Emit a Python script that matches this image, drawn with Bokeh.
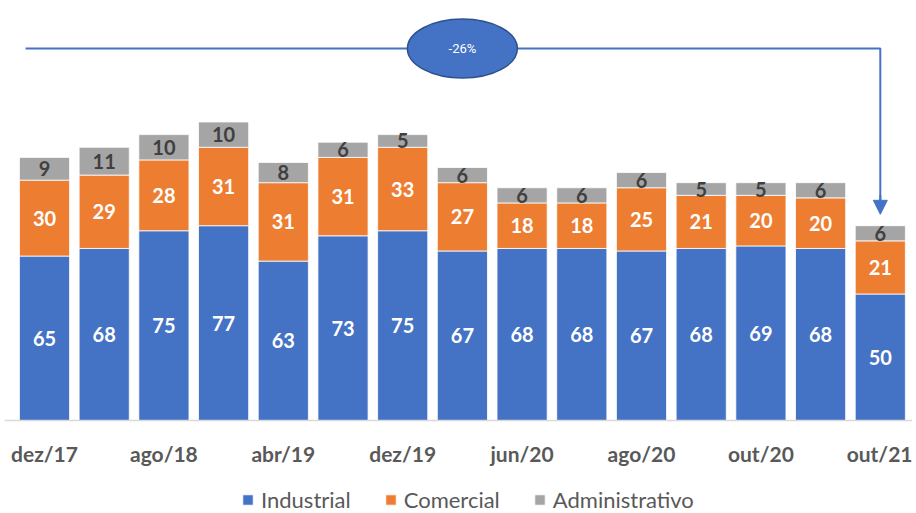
from bokeh.plotting import figure
from bokeh.models import (ColumnDataSource, Range1d, FixedTicker, Legend, LegendItem,
                          Arrow, NormalHead, Label)
from bokeh.core.properties import value
from bokeh.embed import file_html
from bokeh.resources import INLINE

periods = ["dez/17", "abr/18", "ago/18", "dez/18", "abr/19", "ago/19", "dez/19", "mar/20",
           "jun/20", "jul/20", "ago/20", "set/20", "out/20", "dez/20", "out/21"]
industrial = [65, 68, 75, 77, 63, 73, 75, 67, 68, 68, 67, 68, 69, 68, 50]
comercial = [30, 29, 28, 31, 31, 31, 33, 27, 18, 18, 25, 21, 20, 20, 21]
administrativo = [9, 11, 10, 10, 8, 6, 5, 6, 6, 6, 6, 5, 5, 6, 6]
shown_ticks = [0, 2, 4, 6, 8, 10, 12, 14]
change_label = "-26%"

BLUE = "#4472C4"
ORANGE = "#ED7D31"
GRAY = "#A5A5A5"
FONT = "Lato"

n = len(periods)
xs = list(range(n))
tot = [a + b + c for a, b, c in zip(industrial, comercial, administrativo)]
src = ColumnDataSource(dict(
    x=xs, Industrial=industrial, Comercial=comercial, Administrativo=administrativo,
    y_ind=[v / 2 for v in industrial],
    y_com=[a + b / 2 for a, b in zip(industrial, comercial)],
    y_adm=[a + b + c / 2 for a, b, c in zip(industrial, comercial, administrativo)],
    t_ind=[str(v) for v in industrial],
    t_com=[str(v) for v in comercial],
    t_adm=[str(v) for v in administrativo],
))

FH = 513
BASE = 420  # baseline from top, px
FW = 908
PX = 59.7   # px per category
PY = 2.53   # px per unit
x0 = -40 / PX
p = figure(frame_width=FW, frame_height=FH, output_backend="svg", toolbar_location=None,
           x_range=Range1d(x0, x0 + FW / PX),
           y_range=Range1d(-(FH - BASE) / PY, BASE / PY),
           min_border_left=4, min_border_right=0, min_border_top=0,
           min_border_bottom=0)
p.outline_line_color = None
p.grid.visible = False
p.yaxis.visible = False
p.background_fill_color = "white"

rs = p.vbar_stack(["Industrial", "Comercial", "Administrativo"], x="x", width=0.84,
                  color=[BLUE, ORANGE, GRAY], line_color="white", line_width=0.8,
                  source=src)

lab = dict(source=src, text_align="center", text_baseline="middle",
           text_font=value(FONT), text_font_style="bold", text_font_size="20px")
p.text(x="x", y="y_ind", text="t_ind", text_color="white", **lab)
p.text(x="x", y="y_com", text="t_com", text_color="white", **lab)
p.text(x="x", y="y_adm", text="t_adm", text_color="#404040", **lab)

# x axis drawn at y = 0 inside the frame
ax = p.xaxis[0]
ax.fixed_location = 0
ax.ticker = FixedTicker(ticks=shown_ticks)
ax.major_label_overrides = {i: periods[i] for i in shown_ticks}
ax.major_tick_line_color = None
ax.minor_tick_line_color = None
ax.major_tick_out = 0
ax.axis_line_color = "#D9D9D9"
ax.axis_line_width = 1.5
ax.major_label_text_font = FONT
ax.major_label_text_font_style = "bold"
ax.major_label_text_font_size = "21px"
ax.major_label_text_color = "#595959"
ax.major_label_standoff = 20

# annotation: change arrow
line_y = 147.0
first, last = 0, n - 1
p.line(x=[first - 0.318, last, last], y=[line_y, line_y, tot[last] + 10],
       line_color=BLUE, line_width=2)
p.add_layout(Arrow(end=NormalHead(size=14, fill_color=BLUE, line_color=BLUE),
                   x_start=last, y_start=tot[last] + 12, x_end=last, y_end=tot[last] + 4.5,
                   line_color=BLUE, line_width=2))
p.ellipse(x=[(first + last) / 2], y=[line_y], width=110 / PX, height=59 / PY,
          fill_color=BLUE, line_color="#2F528F", line_width=1.5)
p.add_layout(Label(x=(first + last) / 2, y=line_y, text=change_label, text_align="center",
                   text_baseline="middle", text_color="white", text_font="Roboto",
                   text_font_size="13px"))

legend = Legend(items=[LegendItem(label=name, renderers=[r]) for name, r in
                       zip(["Industrial", "Comercial", "Administrativo"], rs)],
                orientation="horizontal", location=(237, 0),
                label_text_font=FONT, label_text_font_size="22px",
                label_text_color="#595959", glyph_width=13, glyph_height=13,
                spacing=33, label_standoff=7, border_line_color=None,
                background_fill_alpha=0, padding=0, margin=0)
p.add_layout(legend, "center")

open("out.html", "w").write(file_html(p, INLINE))
